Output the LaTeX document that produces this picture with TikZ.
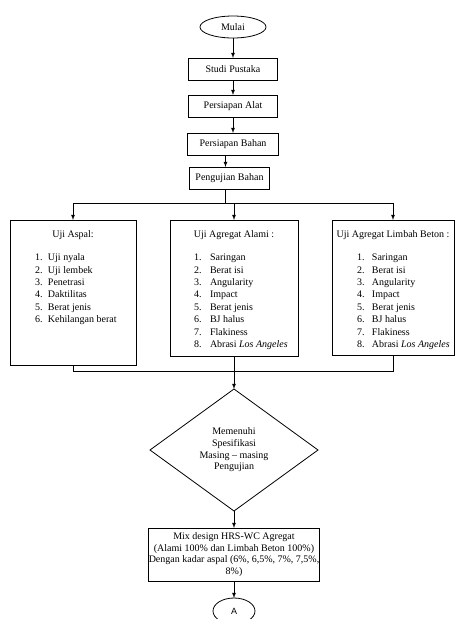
\documentclass[tikz,border=0pt]{standalone}
\usepackage{fontspec}
\setmainfont{Liberation Serif}
\newfontfamily\arialfont{Liberation Sans}
\usetikzlibrary{shapes.geometric}
\usetikzlibrary{arrows}
\usetikzlibrary{positioning}

\tikzstyle{Line}     = [line width=0.8pt]
\tikzstyle{Flow}     = [Line, -latex]
\tikzstyle{Terminal} = [ellipse, draw, Line, inner sep=0pt, outer sep=0pt, font=\fontsize{10}{12}\selectfont]
\tikzstyle{StepBox}  = [rectangle, draw, Line, minimum width=89pt, minimum height=22pt, inner sep=0pt, outer sep=0pt, font=\fontsize{10}{12}\selectfont]
\tikzstyle{TestBox}  = [rectangle, draw, Line, inner sep=0pt, outer sep=0pt, font=\fontsize{10}{12.4}\selectfont]
\tikzstyle{Decision} = [diamond, draw, Line, inner sep=0pt, outer sep=0pt, minimum width=168pt, minimum height=122pt, align=center, font=\fontsize{10}{11.7}\selectfont]
\tikzstyle{MixBox}   = [rectangle, draw, Line, minimum width=168pt, minimum height=53pt, inner sep=0pt, outer sep=0pt, align=center, font=\fontsize{10}{11.7}\selectfont]

\newenvironment{TestList}[2]{\begin{tabular}[t]{@{\hspace{#1}}p{#2}@{}l@{}}}{\end{tabular}}

\begin{document}
\begin{tikzpicture}[x=1pt, y=-1pt]

\useasboundingbox (0,0) rectangle (456,619);

\node (mulai) [Terminal, minimum width=66pt, minimum height=22pt] at (233,27) {Mulai};

\node (studi) [StepBox, below = 20pt of mulai] {Studi Pustaka};
\node (alat)  [StepBox, below = 15pt of studi] {Persiapan Alat};
\node (bahan) [StepBox, minimum width=91pt, below = 16pt of alat] {Persiapan Bahan};
\node (uji)   [StepBox, minimum width=80pt,
               below = 12pt of bahan, xshift=-3.5pt] {Pengujian Bahan};

\coordinate [below = 14pt of uji.south, xshift=-4pt] (split);

%% ------------------------------------------------------------ [ Pengujian ]
\node (alami) [TestBox, below = 31pt of uji, xshift=4.5pt]
  {\parbox[t][136pt][t]{128pt}{\vspace*{9pt}\centering\strut Uji Agregat Alami :\par
   \vspace{10.6pt}\raggedright
   \begin{TestList}{24pt}{16pt}
   1. & Saringan\\
   2. & Berat isi\\
   3. & Angularity\\
   4. & Impact\\
   5. & Berat jenis\\
   6. & BJ halus\\
   7. & Flakiness\\
   8. & Abrasi \textit{Los Angeles}
   \end{TestList}}};

\node (aspal) [TestBox, left = 34pt of alami.north west, anchor=north east]
  {\parbox[t][145pt][t]{126pt}{\vspace*{9pt}\centering\strut Uji Aspal:\par
   \vspace{10.6pt}\raggedright
   \begin{TestList}{25pt}{13pt}
   1. & Uji nyala\\
   2. & Uji lembek\\
   3. & Penetrasi\\
   4. & Daktilitas\\
   5. & Berat jenis\\
   6. & Kehilangan berat
   \end{TestList}}};

\node (limbah) [TestBox, right = 34pt of alami.north east, anchor=north west]
  {\parbox[t][135pt][t]{122pt}{\vspace*{9pt}\centering\strut Uji Agregat Limbah Beton :\par
   \vspace{10.6pt}\raggedright
   \begin{TestList}{25pt}{15pt}
   1. & Saringan\\
   2. & Berat isi\\
   3. & Angularity\\
   4. & Impact\\
   5. & Berat jenis\\
   6. & BJ halus\\
   7. & Flakiness\\
   8. & Abrasi \textit{Los Angeles}
   \end{TestList}}};

\coordinate [below = 6pt of aspal.south] (merge);

%% ------------------------------------------------------------ [ Spesifikasi ]
\node (syarat) [Decision, below = 33pt of alami]
  {Memenuhi\\Spesifikasi\\Masing – masing\\Pengujian};

\node (mix) [MixBox, below = 17pt of syarat]
  {Mix design HRS-WC Agregat\\(Alami 100\% dan Limbah Beton 100\%)\\Dengan kadar aspal (6\%, 6,5\%, 7\%, 7,5\%,\\8\%)};

\node (lanjut) [Terminal, minimum width=42pt, minimum height=26pt,
                font=\arialfont\fontsize{9}{11}\selectfont,
                below = 17pt of mix] {A};

%% ------------------------------------------------------------ [ Connectors ]
\draw [Flow] (mulai) -- (studi);
\draw [Flow] (studi) -- (alat);
\draw [Flow] (alat) -- (bahan);
\draw [Flow] (split |- bahan.south) -- (split |- uji.north);
\draw [Line] (split |- uji.south) -- (split);
\draw [Line] (aspal.north |- split) -- (limbah.north |- split);
\draw [Flow] (aspal.north |- split) -- (aspal.north);
\draw [Flow] (alami.north |- split) -- (alami.north);
\draw [Flow] (limbah.north |- split) -- (limbah.north);

\draw [Line] (aspal.south) -- (merge) -- (limbah.south |- merge) -- (limbah.south);
\draw [Flow] (alami.south) -- (syarat.north);
\draw [Flow] (syarat.south) -- (mix.north);
\draw [Flow] (mix.south) -- (lanjut.north);
\end{tikzpicture}
\end{document}
